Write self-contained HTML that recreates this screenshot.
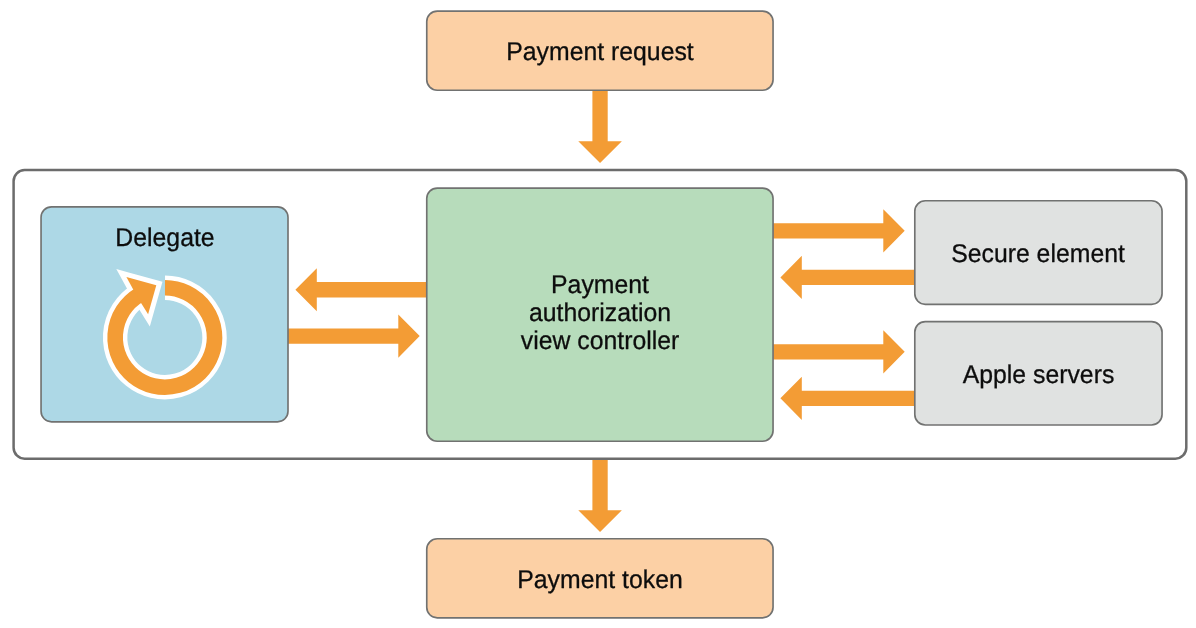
<!DOCTYPE html>
<html lang="en">
<head>
<meta charset="utf-8">
<title>Payment authorization flow</title>
<style>
html,body{margin:0;padding:0;background:#fff;}
body{width:1196px;height:628px;overflow:hidden;}
.stage{width:1196px;height:628px;will-change:transform;}
svg{display:block;}
text{font-family:"Liberation Sans",Arial,Helvetica,sans-serif;font-size:25.6px;fill:#0d0d0d;stroke:#0d0d0d;stroke-width:0.3px;stroke-linejoin:round;text-anchor:middle;text-rendering:geometricPrecision;}
.box{stroke:#717271;stroke-width:1.65;}
.arrow{fill:#f39c35;}
</style>
</head>
<body>
<div class="stage">
<svg width="1196" height="628" viewBox="0 0 1196 628">
  <rect x="0" y="0" width="1196" height="628" fill="#ffffff"/>
  <!-- arrows that pass behind the container border -->
  <polygon class="arrow" points="592.4,90 592.4,141.2 578.25,141.2 600.05,163 621.85,141.2 607.7,141.2 607.7,90"/>
  <polygon class="arrow" points="592.4,459 592.4,510.2 578.25,510.2 600.05,532 621.85,510.2 607.7,510.2 607.7,459"/>
  <!-- outer container -->
  <rect x="13.6" y="170.1" width="1172.7" height="288.6" rx="11" ry="11" fill="none" stroke="#6c6c6c" stroke-width="2.5"/>
  <!-- top box -->
  <rect class="box" x="426.75" y="11.1" width="346.3" height="79.1" rx="10.500" fill="#fcd0a5"/>
  <text transform="translate(600,60) scale(0.969,1)">Payment request</text>
  <!-- bottom box -->
  <rect class="box" x="426.75" y="538.75" width="346.3" height="79.05" rx="10.500" fill="#fcd0a5"/>
  <text transform="translate(600,587.6) scale(0.969,1)">Payment token</text>
  <!-- horizontal arrows -->
  <polygon class="arrow" points="427,282.1 316.8,282.1 316.8,268.15 295.4,289.75 316.8,311.35 316.8,297.4 427,297.4"/>
  <polygon class="arrow" points="288,328.45 398.3,328.45 398.3,314.5 419.7,336.1 398.3,357.7 398.3,343.75 288,343.75"/>
  <polygon class="arrow" points="773,223.2 883.3,223.2 883.3,209.25 904.7,230.85 883.3,252.45 883.3,238.5 773,238.5"/>
  <polygon class="arrow" points="915,269.75 801.8,269.75 801.8,255.8 780.4,277.4 801.8,299 801.8,285.05 915,285.05"/>
  <polygon class="arrow" points="773,344.15 883.3,344.15 883.3,330.2 904.7,351.8 883.3,373.4 883.3,359.45 773,359.45"/>
  <polygon class="arrow" points="915,390.65 801.8,390.65 801.8,376.7 780.4,398.3 801.8,419.9 801.8,405.95 915,405.95"/>
  <!-- delegate -->
  <rect class="box" x="41.05" y="206.85" width="246.95" height="214.95" rx="10.500" fill="#add8e6"/>
  <text transform="translate(165,246) scale(0.969,1)">Delegate</text>
  <g fill="none" stroke-linecap="butt">
    <path d="M165.00,287.80 A49.70,49.70 0 1 1 138.88,295.12" stroke="#ffffff" stroke-width="24.40"/>
    <polygon points="126.40,277.00 156.30,285.30 148.10,314.30 141.50,303.70 133.10,289.20" fill="#ffffff" stroke="#ffffff" stroke-width="10.00" stroke-linejoin="miter" stroke-miterlimit="10"/>
    <path d="M165.00,287.80 A49.70,49.70 0 1 1 138.88,295.12" stroke="#f39c35" stroke-width="15.60"/>
    <polygon points="126.40,277.00 156.30,285.30 148.10,314.30 141.50,303.70 133.10,289.20" fill="#f39c35"/>
  </g>
  <!-- payment authorization view controller -->
  <rect class="box" x="426.75" y="188.1" width="346.3" height="253.1" rx="10.500" fill="#b7dcbb"/>
  <text transform="translate(600,292.8) scale(0.969,1)">Payment</text>
  <text transform="translate(600,320.8) scale(0.969,1)">authorization</text>
  <text transform="translate(600,348.8) scale(0.969,1)">view controller</text>
  <!-- secure element / apple servers -->
  <rect class="box" x="914.8" y="200.75" width="247.25" height="103.55" rx="10.500" fill="#e0e2e1"/>
  <text transform="translate(1038,261.9) scale(0.969,1)">Secure element</text>
  <rect class="box" x="914.8" y="321.6" width="247.25" height="103.4" rx="10.500" fill="#e0e2e1"/>
  <text transform="translate(1038.5,382.9) scale(0.969,1)">Apple servers</text>
</svg>
</div>
</body>
</html>
